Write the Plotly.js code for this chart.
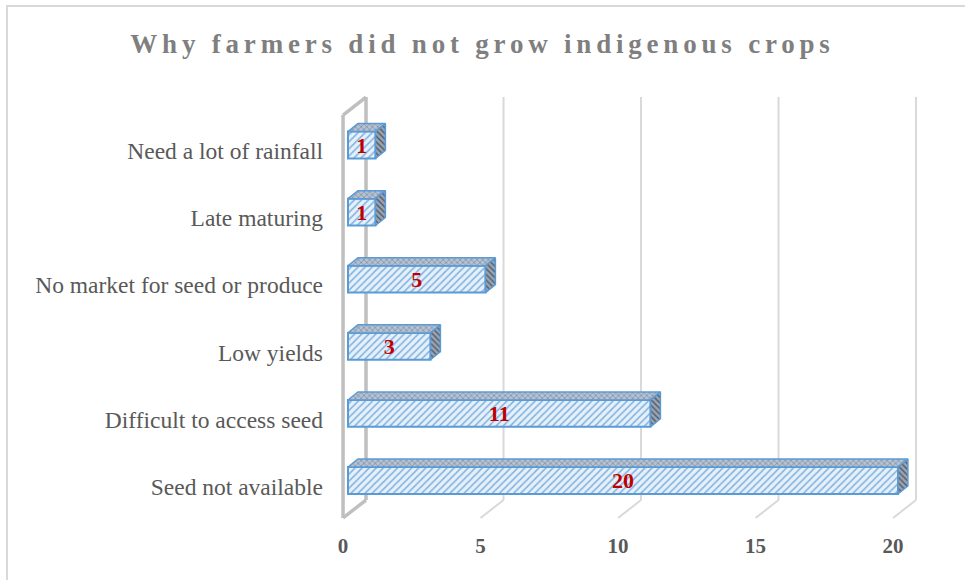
<!DOCTYPE html>
<html>
<head>
<meta charset="utf-8">
<script src="https://cdn.plot.ly/plotly-3.0.1.min.js"></script>
<style>
html,body{margin:0;padding:0;background:#fff;overflow:hidden;}
#chart{width:965px;height:580px;position:absolute;left:0;top:0;}
#frame{position:absolute;left:6px;top:5px;width:1200px;height:1000px;border-top:2px solid #d9d9d9;border-left:2px solid #d9d9d9;pointer-events:none;}
.gtitle{letter-spacing:4.8px;}
</style>
</head>
<body>
<div id="chart"></div>
<div id="frame"></div>
<script>
// ---- data ----
const categories = ["Seed not available","Difficult to access seed","Low yields","No market for seed or produce","Late maturing","Need a lot of rainfall"];
const counts = [20, 11, 3, 5, 1, 1];
const xTicks = [0, 5, 10, 15, 20];
const chartTitle = "Why farmers did not grow indigenous crops";

// ---- 3D styling parameters (in axis units) ----
const barW = 0.40;
const depthX = 0.36, depthY = 0.12;       // bar top/side offsets
const frontOff = -0.18, backOff = 0.655;  // frame planes relative to bars
const labelShift = 0.09;                  // category labels sit slightly lower
const yTopFront = 5.447, yTopBack = 5.715, yFloorBack = -0.291, yFloorFront = -0.559;
const serif = "Liberation Serif, Times New Roman, serif";

const idx = categories.map((c, i) => i);

// top faces & side faces
const topX = [], topY = [], sideX = [], sideY = [];
idx.forEach(i => {
  const v = counts[i], yt = i + barW / 2, yb = i - barW / 2;
  topX.push(0, v, v + depthX, depthX, 0, null);
  topY.push(yt, yt, yt + depthY, yt + depthY, yt, null);
  sideX.push(v, v, v + depthX, v + depthX, v, null);
  sideY.push(yb, yt, yt + depthY, yb + depthY, yb, null);
});

const traces = [
  {
    type: "scatter", x: topX, y: topY, mode: "lines", fill: "toself",
    fillcolor: "#aab6c6",
    fillpattern: {shape: "x", fgcolor: "#7b8798", bgcolor: "#b4c2d3", size: 4, solidity: 0.3},
    line: {color: "#5b9bd5", width: 1.5}, hoverinfo: "skip", showlegend: false
  },
  {
    type: "scatter", x: sideX, y: sideY, mode: "lines", fill: "toself",
    fillcolor: "#8a94a1",
    fillpattern: {shape: "\\", fgcolor: "#4f5866", bgcolor: "#9aa5b3", size: 4, solidity: 0.35},
    line: {color: "#5b9bd5", width: 1.5}, hoverinfo: "skip", showlegend: false
  },
  {
    type: "bar", orientation: "h", x: counts, y: idx, width: barW,
    marker: {
      color: "#deebf7",
      pattern: {shape: "/", fgcolor: "#7fb2e0", bgcolor: "#e6f0fa", size: 5, solidity: 0.3},
      line: {color: "#5b9bd5", width: 2}
    },
    text: counts.map(String), textposition: "inside", insidetextanchor: "middle",
    textangle: 0, constraintext: "none",
    textfont: {family: serif, size: 22, color: "#c00000", weight: "bold"},
    hoverinfo: "skip", showlegend: false
  },
  {
    type: "scatter", x: [0], y: [0], xaxis: "x2", yaxis: "y", mode: "markers",
    marker: {opacity: 0}, hoverinfo: "skip", showlegend: false
  },
  {
    type: "scatter", x: [0], y: [0], xaxis: "x", yaxis: "y2", mode: "markers",
    marker: {opacity: 0}, hoverinfo: "skip", showlegend: false
  }
];

// frame shapes (back wall grid, floor, left wall)
const shapes = [];
const wall = {color: "#bfbfbf", width: 3.5};
const grid = {color: "#d9d9d9", width: 2};
shapes.push({type: "line", xref: "x", yref: "y", x0: frontOff, x1: frontOff, y0: yFloorFront, y1: yTopFront, line: wall, layer: "below"});
shapes.push({type: "line", xref: "x", yref: "y", x0: backOff, x1: backOff, y0: yFloorBack, y1: yTopBack, line: wall, layer: "below"});
shapes.push({type: "line", xref: "x", yref: "y", x0: frontOff, x1: backOff, y0: yTopFront, y1: yTopBack, line: wall, layer: "below"});
shapes.push({type: "line", xref: "x", yref: "y", x0: frontOff, x1: backOff, y0: yFloorFront, y1: yFloorBack, line: wall, layer: "below"});
xTicks.slice(1).forEach(t => {
  shapes.push({type: "line", xref: "x", yref: "y", x0: t + backOff, x1: t + backOff, y0: yFloorBack, y1: yTopBack, line: grid, layer: "below"});
  shapes.push({type: "line", xref: "x", yref: "y", x0: t + backOff, x1: t + frontOff, y0: yFloorBack, y1: yFloorFront, line: grid, layer: "below"});
});

const xr = [-0.6545, 21.345];
const yr = [-0.738, 5.82];
const layout = {
  width: 965, height: 580,
  margin: {l: 330, r: 30, t: 90, b: 50},
  paper_bgcolor: "#ffffff", plot_bgcolor: "#ffffff",
  title: {
    text: chartTitle, x: 0.5, xref: "container", y: 1 - 44 / 580, yref: "container", yanchor: "middle",
    font: {family: serif, size: 27, color: "#7f7f7f", weight: "bold"}
  },
  xaxis: {range: xr, showgrid: false, zeroline: false, showticklabels: false, showline: false, fixedrange: true},
  xaxis2: {
    range: [xr[0] - frontOff, xr[1] - frontOff], overlaying: "x", anchor: "y", side: "bottom",
    tickvals: xTicks, ticktext: xTicks.map(String), showgrid: false, zeroline: false, showline: false,
    ticks: "", ticklabelstandoff: 1,
    tickfont: {family: serif, size: 21, color: "#595959", weight: "bold"}, fixedrange: true
  },
  yaxis: {
    range: yr, showgrid: false, zeroline: false, showticklabels: false,
    showline: false, ticks: "", fixedrange: true
  },
  yaxis2: {
    range: [yr[0] + labelShift, yr[1] + labelShift], overlaying: "y", anchor: "x", side: "left",
    tickvals: idx, ticktext: categories, showgrid: false, zeroline: false,
    showline: false, ticks: "", ticklabelstandoff: 6,
    tickfont: {family: serif, size: 23.5, color: "#595959"}, fixedrange: true
  },
  shapes: shapes,
  bargap: 0.6
};

Plotly.newPlot("chart", traces, layout, {displayModeBar: false, staticPlot: true});
</script>
</body>
</html>
